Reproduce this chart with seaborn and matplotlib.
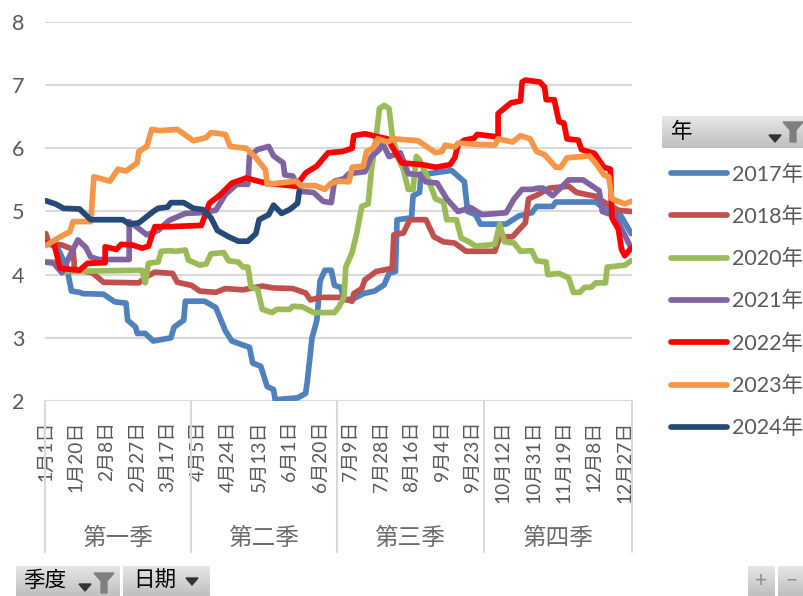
"""Pivot chart of yearly values by day of the year, with quarter groups."""

import matplotlib.pyplot as plt
import numpy as np
import pandas as pd
import seaborn as sns

DAYS_2017 = [1, 8, 14, 17, 22, 24, 37, 44, 51, 52, 57, 58, 63, 68, 79, 81, 87, 88, 100, 107, 113, 117, 128, 130, 135, 139, 143, 144, 158, 163, 164, 167, 170, 172, 175, 179, 181, 185, 187, 193, 199, 206, 212, 215, 219, 220, 229, 230, 234, 235, 240, 254, 262, 264, 269, 272, 288, 296, 304, 307, 317, 319, 344, 350, 358, 366]
VALS_2017 = [4.5, 4.44, 4.12, 3.74, 3.72, 3.7, 3.69, 3.57, 3.55, 3.28, 3.17, 3.07, 3.07, 2.95, 3.0, 3.17, 3.28, 3.58, 3.58, 3.48, 3.11, 2.95, 2.85, 2.6, 2.55, 2.23, 2.18, 2.02, 2.05, 2.12, 2.3, 3.0, 3.28, 3.9, 4.07, 4.07, 3.83, 3.8, 3.6, 3.62, 3.7, 3.74, 3.84, 4.02, 4.05, 4.87, 4.9, 5.25, 5.3, 5.6, 5.6, 5.65, 5.47, 5.0, 4.95, 4.8, 4.8, 4.93, 4.98, 5.08, 5.08, 5.15, 5.15, 5.03, 5.0, 4.65]

DAYS_2018 = [1, 3, 11, 18, 19, 30, 37, 59, 64, 69, 80, 83, 92, 97, 107, 113, 124, 136, 143, 155, 163, 166, 172, 184, 192, 193, 198, 200, 207, 217, 218, 224, 228, 238, 243, 249, 256, 263, 281, 284, 292, 300, 302, 308, 315, 327, 332, 344, 347, 358, 366]
VALS_2018 = [4.65, 4.5, 4.47, 4.4, 4.08, 4.03, 3.88, 3.87, 3.97, 4.04, 4.02, 3.88, 3.83, 3.74, 3.72, 3.78, 3.76, 3.82, 3.79, 3.78, 3.71, 3.6, 3.64, 3.64, 3.58, 3.7, 3.78, 3.92, 4.05, 4.1, 4.63, 4.66, 4.87, 4.87, 4.6, 4.52, 4.5, 4.37, 4.37, 4.6, 4.6, 4.82, 5.2, 5.27, 5.37, 5.4, 5.3, 5.24, 5.18, 5.02, 5.0]

DAYS_2020 = [1, 6, 11, 61, 63, 65, 71, 73, 78, 82, 88, 90, 97, 101, 104, 112, 115, 121, 124, 127, 129, 133, 136, 142, 145, 153, 155, 161, 168, 181, 184, 187, 188, 192, 195, 198, 202, 204, 207, 209, 212, 215, 217, 221, 224, 227, 230, 232, 234, 238, 244, 249, 251, 257, 260, 265, 269, 281, 284, 287, 293, 297, 304, 307, 313, 314, 321, 327, 330, 334, 337, 341, 344, 350, 351, 362, 366]
VALS_2020 = [4.2, 4.2, 4.05, 4.07, 3.87, 4.18, 4.2, 4.37, 4.38, 4.37, 4.39, 4.23, 4.15, 4.17, 4.33, 4.35, 4.22, 4.2, 4.12, 4.12, 3.8, 3.77, 3.45, 3.4, 3.45, 3.45, 3.5, 3.49, 3.4, 3.4, 3.5, 3.65, 4.12, 4.35, 4.67, 5.08, 5.12, 5.65, 6.18, 6.63, 6.68, 6.63, 6.2, 5.83, 5.66, 5.35, 5.35, 5.87, 5.82, 5.6, 5.2, 5.15, 4.87, 4.87, 4.58, 4.52, 4.45, 4.48, 4.8, 4.52, 4.5, 4.37, 4.38, 4.22, 4.2, 4.0, 4.02, 3.95, 3.72, 3.72, 3.8, 3.8, 3.87, 3.87, 4.12, 4.15, 4.22]

DAYS_2021 = [1, 6, 11, 16, 21, 26, 29, 34, 53, 53, 59, 64, 71, 78, 88, 97, 107, 113, 120, 127, 128, 133, 140, 143, 149, 150, 155, 160, 168, 174, 179, 181, 187, 190, 200, 204, 209, 211, 215, 222, 227, 234, 238, 245, 251, 258, 266, 273, 288, 293, 298, 304, 308, 311, 317, 327, 336, 346, 348, 356, 366]
VALS_2021 = [4.2, 4.18, 4.03, 4.3, 4.55, 4.43, 4.28, 4.24, 4.24, 4.84, 4.73, 4.63, 4.7, 4.86, 4.97, 4.98, 5.02, 5.27, 5.43, 5.43, 5.88, 5.98, 6.03, 5.88, 5.77, 5.58, 5.56, 5.32, 5.3, 5.16, 5.14, 5.48, 5.52, 5.6, 5.63, 5.87, 5.98, 6.08, 5.87, 5.93, 5.6, 5.58, 5.47, 5.45, 5.2, 5.0, 5.06, 4.95, 4.98, 5.2, 5.35, 5.35, 5.37, 5.37, 5.25, 5.5, 5.5, 5.33, 5.0, 4.93, 4.42]

DAYS_2022 = [1, 6, 10, 22, 27, 38, 38, 45, 48, 55, 61, 65, 69, 78, 98, 103, 110, 117, 126, 138, 157, 163, 170, 177, 186, 192, 193, 200, 214, 223, 236, 244, 253, 256, 258, 262, 268, 270, 283, 283, 291, 297, 298, 300, 309, 312, 313, 318, 321, 324, 326, 333, 335, 339, 343, 349, 353, 354, 358, 360, 362, 366]
VALS_2022 = [4.5, 4.5, 4.1, 4.07, 4.18, 4.19, 4.44, 4.4, 4.48, 4.47, 4.42, 4.45, 4.76, 4.76, 4.78, 5.13, 5.27, 5.45, 5.53, 5.45, 5.4, 5.61, 5.72, 5.93, 5.95, 6.0, 6.2, 6.23, 6.15, 5.77, 5.74, 5.7, 5.74, 5.85, 6.05, 6.13, 6.16, 6.22, 6.18, 6.55, 6.72, 6.75, 7.05, 7.08, 7.05, 6.97, 6.77, 6.77, 6.42, 6.4, 6.15, 6.13, 5.98, 5.95, 5.92, 5.7, 5.67, 4.9, 4.72, 4.4, 4.3, 4.42]

DAYS_2023 = [1, 10, 16, 18, 29, 31, 41, 46, 51, 58, 59, 64, 67, 72, 83, 93, 101, 104, 113, 116, 126, 132, 138, 139, 157, 160, 169, 175, 179, 184, 190, 192, 199, 201, 205, 208, 214, 218, 233, 240, 244, 248, 250, 256, 258, 281, 283, 292, 297, 303, 307, 312, 319, 322, 326, 340, 344, 349, 352, 354, 362, 366]
VALS_2023 = [4.46, 4.6, 4.68, 4.84, 4.84, 5.55, 5.48, 5.67, 5.64, 5.77, 5.95, 6.03, 6.3, 6.28, 6.3, 6.12, 6.17, 6.25, 6.22, 6.03, 6.0, 5.85, 5.66, 5.43, 5.48, 5.41, 5.41, 5.35, 5.45, 5.48, 5.47, 5.7, 5.72, 5.95, 6.0, 6.15, 6.1, 6.15, 6.12, 6.0, 5.93, 5.95, 6.05, 6.02, 6.08, 6.05, 6.15, 6.1, 6.2, 6.15, 5.95, 5.9, 5.7, 5.7, 5.85, 5.88, 5.76, 5.58, 5.55, 5.2, 5.12, 5.16]

DAYS_2024 = [1, 7, 12, 22, 29, 49, 53, 59, 68, 71, 77, 79, 87, 93, 99, 104, 108, 115, 121, 127, 132, 134, 140, 143, 148, 153, 158, 159]
VALS_2024 = [5.17, 5.12, 5.05, 5.04, 4.87, 4.87, 4.8, 4.82, 5.0, 5.05, 5.07, 5.14, 5.14, 5.05, 5.03, 4.9, 4.7, 4.6, 4.53, 4.53, 4.65, 4.87, 4.95, 5.1, 4.97, 5.03, 5.13, 5.32]

TICK_DAYS = [1, 20, 39, 58, 77, 96, 115, 134, 153, 172, 191, 210, 229, 248, 267, 286, 305, 324, 343, 362]
TICK_LABELS = ["1月1日", "1月20日", "2月8日", "2月27日", "3月17日", "4月5日", "4月24日", "5月13日", "6月1日", "6月20日", "7月9日", "7月28日", "8月16日", "9月4日", "9月23日", "10月12日", "10月31日", "11月19日", "12月8日", "12月27日"]
QUARTERS = ["第一季", "第二季", "第三季", "第四季"]
QUARTER_EDGES = [0.5, 91.5, 182.5, 274.5, 366.5]

YEAR_COLORS = {
    "2017年": "#4F81BD",
    "2018年": "#C0504D",
    "2020年": "#9BBB59",
    "2021年": "#8064A2",
    "2022年": "#FF0000",
    "2023年": "#F79646",
    "2024年": "#264A78",
}
SERIES = [
    ("2017年", DAYS_2017, VALS_2017),
    ("2018年", DAYS_2018, VALS_2018),
    ("2020年", DAYS_2020, VALS_2020),
    ("2021年", DAYS_2021, VALS_2021),
    ("2022年", DAYS_2022, VALS_2022),
    ("2023年", DAYS_2023, VALS_2023),
    ("2024年", DAYS_2024, VALS_2024),
]
TEXT_COLOR = "#595959"
GRID_COLOR = "#D9D9D9"
WIDTH, HEIGHT = 804, 596


def _draw_button(chrome, left, top, right, bottom, label, text_x):
    """Gray pivot field button with a vertical gradient."""
    gradient = np.linspace(0.9, 0.75, 32).reshape(-1, 1)
    chrome.imshow(
        gradient,
        cmap="gray",
        vmin=0,
        vmax=1,
        extent=(left, right, bottom, top),
        aspect="auto",
        zorder=1,
    )
    if label:
        chrome.text(
            text_x,
            (top + bottom) / 2,
            label,
            ha="left",
            va="center",
            fontsize=15.5,
            color="black",
            zorder=2,
        )


def _draw_arrow(chrome, x, y):
    chrome.fill([x - 6, x + 6, x], [y - 3, y - 3, y + 4], color="#333333", zorder=2)


def _draw_funnel(chrome, x, y):
    chrome.fill(
        [x - 10, x + 10, x + 3, x + 3, x - 3, x - 3],
        [y - 9, y - 9, y - 1, y + 11, y + 11, y - 1],
        color="#7F7F7F",
        zorder=2,
    )


def main():
    frames = [
        pd.DataFrame({"year": year, "day": days, "value": values})
        for year, days, values in SERIES
    ]
    data = pd.concat(frames, ignore_index=True)

    sns.set_theme(style="white")
    plt.rcParams["font.family"] = ["Lato", "Noto Sans CJK SC", "DejaVu Sans"]

    fig = plt.figure(figsize=(WIDTH / 100, HEIGHT / 100), dpi=100)
    ax = fig.add_axes(
        [45 / WIDTH, 1 - 401 / HEIGHT, 587 / WIDTH, (401 - 22) / HEIGHT], zorder=2
    )
    ax.patch.set_alpha(0)

    sns.lineplot(
        data=data,
        x="day",
        y="value",
        hue="year",
        palette=YEAR_COLORS,
        estimator=None,
        sort=False,
        linewidth=4.1,
        solid_capstyle="round",
        solid_joinstyle="round",
        ax=ax,
    )

    ax.set_xlim(QUARTER_EDGES[0], QUARTER_EDGES[-1])
    ax.set_ylim(2, 8)
    ax.set_xlabel("")
    ax.set_ylabel("")
    ax.set_yticks(range(2, 9))
    ax.tick_params(axis="y", length=0, pad=15, labelsize=15.5, labelcolor=TEXT_COLOR)
    ax.set_xticks(TICK_DAYS)
    ax.set_xticklabels(TICK_LABELS, rotation=90, ha="center", va="top")
    ax.tick_params(axis="x", length=0, pad=14, labelsize=13.8, labelcolor=TEXT_COLOR)
    ax.grid(axis="y", color=GRID_COLOR, linewidth=1.5, zorder=0)
    ax.set_axisbelow(True)
    sns.despine(ax=ax, left=True, bottom=True)

    # Multi-level category axis: separators and quarter names under the ticks.
    to_axis = ax.get_xaxis_transform()
    sep_bottom = -(552 - 401) / (401 - 22)
    for edge in QUARTER_EDGES:
        ax.plot(
            [edge, edge],
            [0, sep_bottom],
            transform=to_axis,
            color=GRID_COLOR,
            linewidth=1.5,
            clip_on=False,
        )
    for start, end, name in zip(QUARTER_EDGES, QUARTER_EDGES[1:], QUARTERS):
        ax.text(
            (start + end) / 2,
            -(538 - 401) / (401 - 22),
            name,
            transform=to_axis,
            ha="center",
            va="center",
            fontsize=17,
            color="#6B6B6B",
        )

    handles, labels = ax.get_legend_handles_labels()
    ax.legend(
        handles,
        labels,
        loc="upper left",
        bbox_to_anchor=(667 / WIDTH, 1 - 160 / HEIGHT),
        bbox_transform=fig.transFigure,
        frameon=False,
        fontsize=15.5,
        labelcolor=TEXT_COLOR,
        handlelength=2.6,
        handletextpad=0.2,
        labelspacing=1.025,
        borderpad=0.2,
        borderaxespad=0,
    )

    # Pivot chart field buttons around the plot.
    chrome = fig.add_axes([0, 0, 1, 1], zorder=1)
    _draw_button(chrome, 662, 116, 804, 148, "年", 671)
    _draw_arrow(chrome, 775, 138)
    _draw_funnel(chrome, 793, 131)
    _draw_button(chrome, 16, 566, 120, 596, "季度", 23)
    _draw_arrow(chrome, 85, 587)
    _draw_funnel(chrome, 104, 582)
    _draw_button(chrome, 123, 566, 210, 596, "日期", 133)
    _draw_arrow(chrome, 192, 581)
    _draw_button(chrome, 748, 566, 775, 596, "", 0)
    _draw_button(chrome, 778, 566, 804, 596, "", 0)
    chrome.text(761, 581, "+", ha="center", va="center", fontsize=15, color="#8C8C8C", zorder=2)
    chrome.text(792, 581, "−", ha="center", va="center", fontsize=15, color="#8C8C8C", zorder=2)
    chrome.set_xlim(0, WIDTH)
    chrome.set_ylim(HEIGHT, 0)
    chrome.set_axis_off()

    fig.savefig("out.png", dpi=100)


if __name__ == "__main__":
    main()
